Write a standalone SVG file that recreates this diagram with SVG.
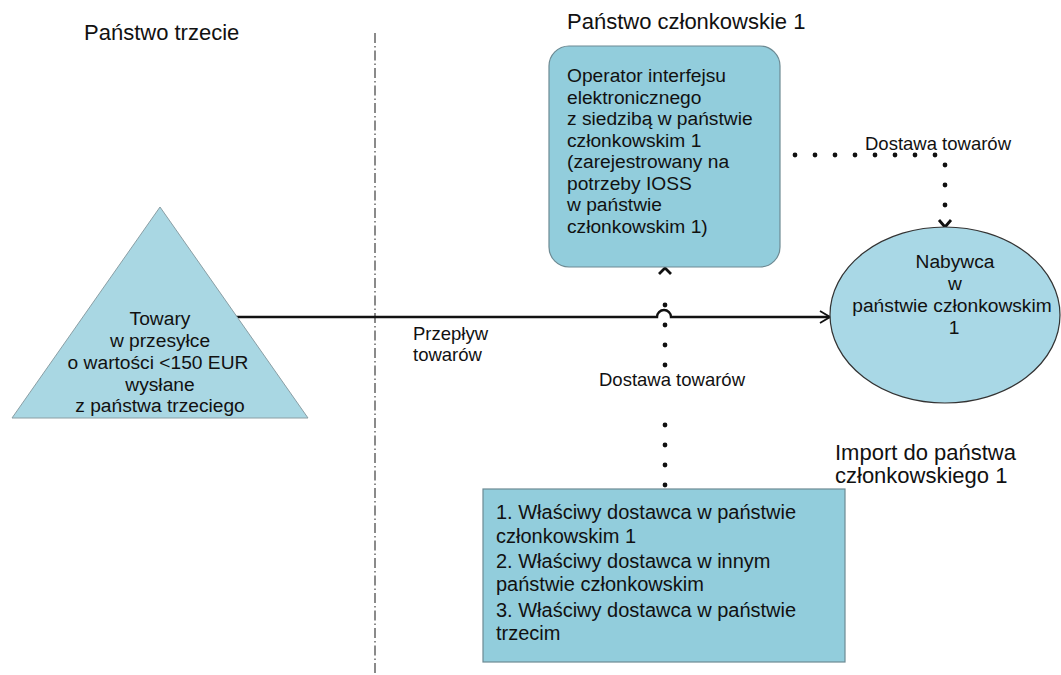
<svg xmlns="http://www.w3.org/2000/svg" width="1061" height="675" viewBox="0 0 1061 675">
  <style>
    text { font-family: "Liberation Sans", Arial, sans-serif; fill: #111; }
    .lbl { font-size: 18.5px; }
    .hdr { font-size: 22px; }
    .body { font-size: 19.2px; }
    .list { font-size: 20px; }
    .ctr { text-anchor: middle; }
    .box { fill: #92cddc; stroke: #6d8a93; stroke-width: 1.2; }
    .tri { fill: #a9d7e3; stroke: #8a9ea4; stroke-width: 1; }
    .oval { fill: #a9d8e6; stroke: #333; stroke-width: 1.2; }
    .dots { fill: none; stroke: #111; stroke-width: 4.8; stroke-linecap: round; stroke-dasharray: 0 20; }
    .chev { fill: none; stroke: #111; stroke-width: 2.8; stroke-linejoin: miter; }
  </style>
  <defs>
    <marker id="open" viewBox="0 0 12 14" refX="11" refY="7" markerWidth="12" markerHeight="14" markerUnits="userSpaceOnUse" orient="auto">
      <path d="M1 1 L11 7 L1 13" fill="none" stroke="#111" stroke-width="1.8"/>
    </marker>
  </defs>

  <!-- border between the third country and the member state -->
  <line x1="375" y1="33" x2="375" y2="675" stroke="#8a8a8a" stroke-width="2" stroke-dasharray="10 3 1.5 3"/>

  <!-- region headings -->
  <text class="hdr" x="84" y="40">Państwo trzecie</text>
  <text class="hdr" x="567" y="29">Państwo członkowskie 1</text>
  <text class="hdr" x="835" y="460">Import do państwa</text>
  <text class="hdr" x="835" y="483">członkowskiego 1</text>

  <!-- connectors -->
  <g id="connectors">
    <!-- flow of goods, hopping over the supply line -->
    <path d="M232 317 H657 A7 7 0 0 1 671 317 H830" fill="none" stroke="#111" stroke-width="2.4" marker-end="url(#open)"/>
    <!-- supply to the buyer -->
    <path class="dots" d="M795 155 H945 V215"/>
    <path class="chev" d="M939 220 L945 227 L951 220"/>
    <!-- supply from the underlying supplier up to the operator -->
    <path class="dots" d="M665 365 V285"/>
    <path class="dots" d="M665 485 V405"/>
    <path class="chev" d="M659 274 L665 268 L671 274"/>
    <text class="lbl" x="865" y="150">Dostawa towarów</text>
    <text class="lbl" x="599" y="386">Dostawa towarów</text>
    <text class="lbl" x="413" y="340">Przepływ</text>
    <text class="lbl" x="413" y="361">towarów</text>
  </g>

  <g id="goods">
    <polygon class="tri" points="160,207 12,418 308,418"/>
    <text class="body ctr" x="160" y="325">Towary</text>
    <text class="body ctr" x="160" y="347">w przesyłce</text>
    <text class="body ctr" x="158" y="369">o wartości &lt;150 EUR</text>
    <text class="body ctr" x="160" y="391">wysłane</text>
    <text class="body ctr" x="160" y="412">z państwa trzeciego</text>
  </g>

  <g id="operator">
    <rect class="box" x="549" y="46" width="231" height="221" rx="20"/>
    <text class="body" x="567" y="82">Operator interfejsu</text>
    <text class="body" x="567" y="103.5">elektronicznego</text>
    <text class="body" x="567" y="125">z siedzibą w państwie</text>
    <text class="body" x="567" y="146.5">członkowskim 1</text>
    <text class="body" x="567" y="168">(zarejestrowany na</text>
    <text class="body" x="567" y="189.5">potrzeby IOSS</text>
    <text class="body" x="567" y="211">w państwie</text>
    <text class="body" x="567" y="232.5">członkowskim 1)</text>
  </g>

  <g id="buyer">
    <ellipse class="oval" cx="945" cy="315" rx="115" ry="88"/>
    <text class="body ctr" x="955" y="268">Nabywca</text>
    <text class="body ctr" x="955" y="290">w</text>
    <text class="body ctr" x="952" y="312">państwie członkowskim</text>
    <text class="body ctr" x="954" y="334">1</text>
  </g>

  <g id="suppliers">
    <rect class="box" x="483" y="489" width="362" height="173"/>
    <text class="list" x="496" y="519">1. Właściwy dostawca w państwie</text>
    <text class="list" x="496" y="543">członkowskim 1</text>
    <text class="list" x="496" y="568">2. Właściwy dostawca w innym</text>
    <text class="list" x="496" y="591">państwie członkowskim</text>
    <text class="list" x="496" y="617">3. Właściwy dostawca w państwie</text>
    <text class="list" x="496" y="640">trzecim</text>
  </g>
</svg>
